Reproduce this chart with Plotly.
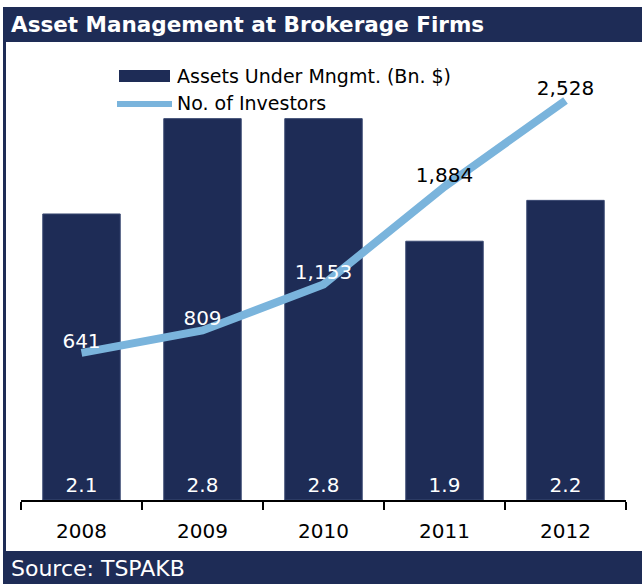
import plotly.graph_objects as go

# ---- data ----
years = ["2008", "2009", "2010", "2011", "2012"]
assets_bn = [2.1, 2.8, 2.8, 1.9, 2.2]
investors = [641, 809, 1153, 1884, 2528]
investor_label_colors = ["white", "white", "white", "black", "black"]

bar_name = "Assets Under Mngmt. (Bn. $)"
line_name = "No. of Investors"
title_text = "Asset Management at Brokerage Firms"
source_text = "Source: TSPAKB"

NAVY = "#1E2C56"
LIGHT = "#7AB4DC"
FONT = "DejaVu Sans"

W, H = 642, 586
L, R, T, B = 21, 626, 50, 500  # plot area in pixels


def px(x):
    return (x - L) / (R - L)


def py(y):
    return (B - y) / (B - T)


fig = go.Figure()
fig.add_trace(go.Bar(
    x=years, y=assets_bn, name=bar_name,
    marker=dict(color=NAVY, line=dict(color="#3B4A72", width=1)),
    width=0.64,
    texttemplate="%{y:.1f}", textposition="inside", insidetextanchor="start",
    textangle=0, textfont=dict(color="white", size=20, family=FONT),
    showlegend=False, yaxis="y",
))
fig.add_trace(go.Scatter(
    x=years, y=investors, name=line_name, mode="lines+text",
    line=dict(color=LIGHT, width=8),
    texttemplate="%{y:,}", textposition="top center",
    textfont=dict(color=investor_label_colors, size=20, family=FONT),
    showlegend=False, yaxis="y2", cliponaxis=False,
))

shapes = [
    # title bar
    dict(type="rect", xref="paper", yref="paper", x0=px(3), x1=px(642), y0=py(42), y1=py(7),
         fillcolor=NAVY, line=dict(width=0)),
    # source bar
    dict(type="rect", xref="paper", yref="paper", x0=px(3), x1=px(642), y0=py(584), y1=py(551),
         fillcolor=NAVY, line=dict(width=0)),
    # left border
    dict(type="rect", xref="paper", yref="paper", x0=px(3), x1=px(6), y0=py(584), y1=py(7),
         fillcolor=NAVY, line=dict(width=0)),
    # legend swatches
    dict(type="rect", xref="paper", yref="paper", x0=px(119), x1=px(170), y0=py(82), y1=py(70),
         fillcolor=NAVY, line=dict(width=0)),
    dict(type="line", xref="paper", yref="paper", x0=px(117), x1=px(172), y0=py(104), y1=py(104),
         line=dict(color=LIGHT, width=6)),
]

annotations = [
    dict(text=f"<b>{title_text}</b>", x=px(9), y=py(25), xref="paper", yref="paper",
         xanchor="left", yanchor="middle", showarrow=False,
         font=dict(color="white", size=21.5, family=FONT)),
    dict(text=source_text, x=px(9), y=py(568), xref="paper", yref="paper",
         xanchor="left", yanchor="middle", showarrow=False,
         font=dict(color="white", size=22, family=FONT)),
    dict(text=bar_name, x=px(175), y=py(76), xref="paper", yref="paper",
         xanchor="left", yanchor="middle", showarrow=False,
         font=dict(color="black", size=19, family=FONT)),
    dict(text=line_name, x=px(175), y=py(103), xref="paper", yref="paper",
         xanchor="left", yanchor="middle", showarrow=False,
         font=dict(color="black", size=19, family=FONT)),
]

fig.update_layout(
    width=W, height=H,
    margin=dict(l=L, r=W - R, t=T, b=H - B, pad=0),
    paper_bgcolor="white", plot_bgcolor="white",
    font=dict(family=FONT, color="black"),
    bargap=0.36,
    xaxis=dict(type="category", range=[-0.5, 4.5], showline=True, linecolor="black",
               linewidth=2, ticks="outside", tickson="boundaries", ticklen=8,
               tickwidth=2, tickcolor="black", tickfont=dict(size=20, color="black"),
               ticklabelstandoff=12,
               showgrid=False, zeroline=False, fixedrange=True),
    yaxis=dict(range=[0, 3.304], visible=False, showgrid=False, zeroline=False),
    yaxis2=dict(range=[-458, 2905], visible=False, overlaying="y", side="right",
                showgrid=False, zeroline=False),
    shapes=shapes,
    annotations=annotations,
    showlegend=False,
)

fig.write_html(
    "out.html",
    config={"displayModeBar": False},
    post_script="document.body.style.margin='0px';document.body.style.overflow='hidden';",
)
